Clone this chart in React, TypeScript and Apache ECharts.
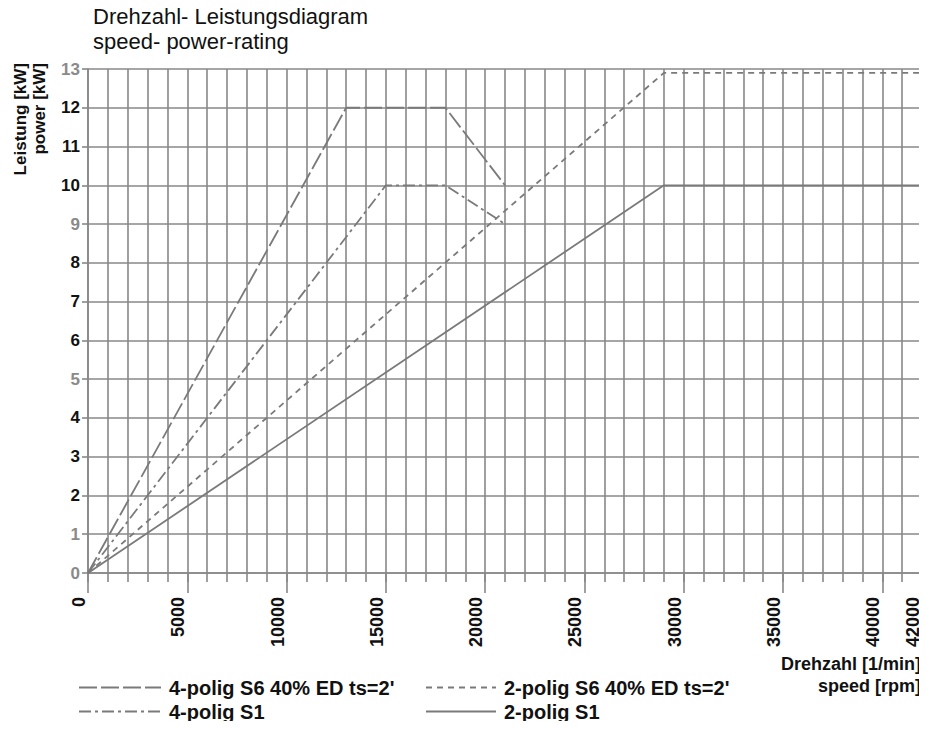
import React, { useEffect, useRef } from "react";
import * as echarts from "echarts";

const FONT = '"Liberation Sans", Arial, Helvetica, sans-serif';

const titleLines = ["Drehzahl- Leistungsdiagram", "speed- power-rating"];
const yNameLines = ["Leistung [kW]", "power [kW]"];
const xNameLines = ["Drehzahl [1/min]", "speed [rpm]"];

const seriesNames = [
  "4-polig S6 40% ED ts=2'",
  "4-polig S1",
  "2-polig S6 40% ED ts=2'",
  "2-polig S1",
];

// [speed rpm, power kW]
const polig4S6: number[][] = [[0, 0], [13000, 12], [18000, 12], [21000, 10]];
const polig4S1: number[][] = [[0, 0], [15000, 10], [18000, 10], [21000, 9]];
const polig2S6: number[][] = [[0, 0], [29000, 12.9], [42000, 12.9]];
const polig2S1: number[][] = [[0, 0], [29000, 10], [42000, 10]];

const xLabelValues = [0, 5000, 10000, 15000, 20000, 25000, 30000, 35000, 40000, 42000];
const yGrayLabels = [13, 9, 5, 1, 0];

const LINE = "#7a7a7a";
const GRID = "#888888";

export default function App() {
  const ref = useRef<HTMLDivElement>(null);
  useEffect(() => {
    if (!ref.current) return;
    const chart = echarts.init(ref.current, null, { renderer: "svg" });
    const mk = (name: string, data: number[][], type: any, width = 1.8) => ({
      name,
      type: "line",
      data,
      symbol: "none",
      xAxisIndex: 0,
      yAxisIndex: 0,
      lineStyle: { color: LINE, width, type },
      itemStyle: { color: LINE },
    });
    const legendText = {
      fontSize: 20,
      fontWeight: "bold",
      color: "#111",
      fontFamily: FONT,
      lineHeight: 21,
      padding: [0, 0, 0, 3],
    };
    chart.setOption({
      animation: false,
      backgroundColor: "#ffffff",
      textStyle: { fontFamily: FONT },
      grid: { left: 88, top: 69, right: 5, bottom: 156 },
      xAxis: [
        {
          type: "value",
          min: 0,
          max: 42000,
          interval: 1000,
          position: "bottom",
          axisLine: { show: true, lineStyle: { color: GRID, width: 1.6 } },
          axisTick: { show: true, length: 9, lineStyle: { color: GRID, width: 1.6 } },
          splitLine: { show: true, lineStyle: { color: GRID, width: 1.6 } },
          axisLabel: {
            rotate: 90,
            margin: 24,
            fontSize: 18,
            fontWeight: "bold",
            color: "#111",
            fontFamily: FONT,
            verticalAlign: "bottom",
            formatter: (v: number) => (xLabelValues.indexOf(v) >= 0 ? String(v) : ""),
          },
        },
        {
          type: "value",
          min: 0,
          max: 42000,
          interval: 5000,
          position: "bottom",
          offset: 0,
          axisLine: { show: false },
          axisTick: { show: true, length: 20, lineStyle: { color: GRID, width: 1.6 } },
          splitLine: { show: false },
          axisLabel: { show: false },
        },
      ],
      yAxis: {
        type: "value",
        min: 0,
        max: 13,
        interval: 1,
        axisLine: { show: true, lineStyle: { color: GRID, width: 1.6 } },
        axisTick: { show: true, length: 6, lineStyle: { color: GRID, width: 1.6 } },
        splitLine: { show: true, lineStyle: { color: GRID, width: 1.6 } },
        axisLabel: {
          margin: 8,
          fontSize: 17,
          fontWeight: "bold",
          fontFamily: FONT,
          color: (v: any) => (yGrayLabels.indexOf(Number(v)) >= 0 ? "#8a8a8a" : "#111"),
        },
      },
      legend: [
        {
          orient: "vertical",
          left: 73,
          top: 672,
          itemWidth: 82,
          itemHeight: 14,
          itemGap: 3,
          itemStyle: { opacity: 0 },
          data: [seriesNames[0], seriesNames[1]],
          textStyle: legendText,
        },
        {
          orient: "vertical",
          left: 420,
          top: 672,
          itemWidth: 70,
          itemHeight: 14,
          itemGap: 3,
          itemStyle: { opacity: 0 },
          data: [seriesNames[2], seriesNames[3]],
          textStyle: legendText,
        },
      ],
      graphic: [
        {
          type: "text",
          x: 93,
          y: 16,
          style: { text: titleLines[0], font: `22px ${FONT}`, fill: "#111", verticalAlign: "middle", align: "left" },
        },
        {
          type: "text",
          x: 93,
          y: 41,
          style: { text: titleLines[1], font: `22px ${FONT}`, fill: "#111", verticalAlign: "middle", align: "left" },
        },
        {
          type: "text",
          x: 20,
          y: 63,
          rotation: Math.PI / 2,
          style: { text: yNameLines[0], font: `bold 17px ${FONT}`, fill: "#111", verticalAlign: "middle", align: "right" },
        },
        {
          type: "text",
          x: 39,
          y: 63,
          rotation: Math.PI / 2,
          style: { text: yNameLines[1], font: `bold 17px ${FONT}`, fill: "#111", verticalAlign: "middle", align: "right" },
        },
        {
          type: "text",
          x: 921,
          y: 664,
          style: { text: xNameLines[0], font: `bold 18px ${FONT}`, fill: "#111", verticalAlign: "middle", align: "right" },
        },
        {
          type: "text",
          x: 921,
          y: 686,
          style: { text: xNameLines[1], font: `bold 18px ${FONT}`, fill: "#111", verticalAlign: "middle", align: "right" },
        },
      ],
      series: [
        mk(seriesNames[0], polig4S6, [18, 4]),
        mk(seriesNames[1], polig4S1, [12, 4, 3, 4]),
        mk(seriesNames[2], polig2S6, [6, 5]),
        mk(seriesNames[3], polig2S1, "solid"),
      ],
    });
    return () => chart.dispose();
  }, []);
  return <div ref={ref} style={{ width: 927, height: 729, margin: -8 }} />;
}
